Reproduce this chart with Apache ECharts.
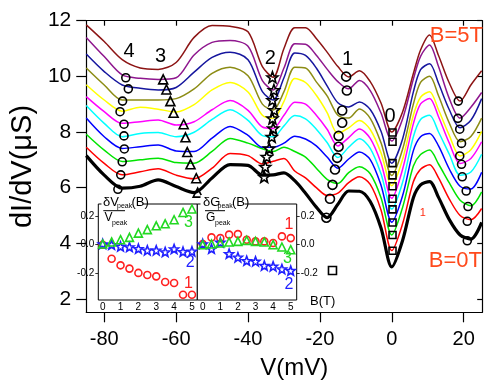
<!DOCTYPE html>
<html>
<head>
<meta charset="utf-8">
<script src="https://cdn.jsdelivr.net/npm/echarts@6/dist/echarts.min.js"></script>
<style>
  html, body { margin: 0; padding: 0; background: #fff; }
  #main { width: 491px; height: 392px; }
</style>
</head>
<body>
<div id="main"></div>
<script>
// bias voltage grid (mV), shared by every dI/dV curve
var voltage = [-85, -80, -75, -70, -65, -60, -55, -50, -45, -40, -36, -33, -30, -27, -24, -21, -18, -15, -12, -9, -6, -3, 0, 3, 6, 8, 10.5, 13, 16, 19, 22, 25];

// dI/dV (uS) for each field, B = 0 ... 5 T (curves are offset as plotted)
var g00 = [7.15, 6.45, 5.98, 6.05, 6.28, 6.04, 5.82, 6.35, 6.83, 6.8, 6.45, 6.46, 6.53, 6.25, 5.8, 5.3, 4.92, 5.4, 5.88, 5.87, 5.5, 4.55, 3.15, 4.1, 5.64, 6.1, 6.22, 5.65, 4.85, 4.3, 4.15, 4.75];
var g05 = [7.45, 6.87, 6.46, 6.57, 6.68, 6.45, 6.32, 6.7, 7.23, 7.15, 6.85, 6.95, 7.05, 6.6, 6.35, 6.0, 5.72, 5.8, 6.18, 6.39, 6.12, 5.2, 3.74, 4.7, 6.21, 6.66, 6.82, 6.35, 5.59, 5.0, 4.85, 5.25];
var g10 = [7.92, 7.35, 6.94, 7.0, 7.06, 6.9, 6.88, 7.3, 7.77, 7.6, 7.4, 7.3, 7.45, 7.3, 7.1, 6.7, 6.3, 6.15, 6.54, 6.75, 6.5, 5.64, 4.3, 5.29, 6.78, 7.19, 7.35, 6.85, 6.17, 5.55, 5.35, 5.85];
var g15 = [8.5, 7.83, 7.41, 7.47, 7.53, 7.32, 7.3, 7.78, 8.2, 7.88, 7.45, 7.45, 7.6, 7.85, 7.75, 7.5, 7.1, 6.7, 7.03, 7.28, 7.01, 6.09, 4.76, 5.71, 7.33, 7.83, 7.95, 7.5, 6.67, 6.05, 5.95, 6.55];
var g20 = [8.95, 8.31, 7.83, 7.95, 7.98, 7.83, 7.99, 8.45, 8.8, 8.42, 7.87, 7.83, 8.22, 8.59, 8.47, 8.1, 7.62, 7.08, 7.45, 7.76, 7.41, 6.5, 5.23, 6.19, 7.83, 8.45, 8.6, 8.0, 7.2, 6.45, 6.56, 7.2];
var g25 = [9.27, 8.73, 8.31, 8.37, 8.43, 8.25, 8.37, 8.8, 9.13, 8.78, 8.18, 8.13, 8.6, 9.07, 9.0, 8.6, 8.1, 7.5, 7.8, 8.11, 7.77, 6.89, 5.62, 6.66, 8.3, 9.01, 9.2, 8.55, 7.6, 6.87, 7.05, 7.65];
var g30 = [9.7, 9.15, 8.75, 8.89, 8.82, 8.72, 8.98, 9.51, 9.78, 9.44, 8.6, 8.49, 9.1, 9.92, 9.78, 9.32, 8.7, 7.95, 8.15, 8.41, 8.09, 7.25, 6.07, 7.02, 8.6, 9.25, 9.45, 8.8, 7.88, 7.14, 7.36, 8.02];
var g35 = [10.3, 9.69, 9.15, 9.15, 9.15, 9.2, 9.55, 10.11, 10.33, 10.02, 9.0, 8.79, 9.45, 10.33, 10.3, 9.8, 9.3, 8.6, 8.5, 8.83, 8.49, 7.61, 6.44, 7.38, 9.0, 9.78, 10.0, 9.3, 8.32, 7.65, 7.84, 8.5];
var g40 = [10.8, 10.17, 9.69, 9.57, 9.51, 9.6, 10.15, 10.68, 10.87, 10.6, 9.45, 9.15, 9.95, 10.84, 10.75, 10.3, 9.66, 9.05, 8.9, 9.08, 8.81, 8.03, 6.88, 7.75, 9.44, 10.24, 10.45, 9.75, 8.8, 8.15, 8.42, 9.2];
var g45 = [11.4, 10.71, 10.05, 9.93, 9.89, 9.95, 10.77, 11.22, 11.29, 11.08, 9.85, 9.51, 10.3, 11.17, 11.15, 10.76, 10.26, 9.81, 9.55, 9.85, 9.49, 8.68, 7.68, 8.47, 9.9, 10.72, 11.13, 10.35, 9.2, 8.5, 8.89, 9.42];
var g50 = [11.85, 11.25, 10.6, 10.3, 10.25, 10.5, 11.4, 11.83, 11.8, 11.6, 10.35, 9.97, 11.0, 11.75, 11.75, 11.36, 10.87, 10.35, 9.98, 10.2, 9.81, 9.04, 8.0, 8.72, 10.1, 10.95, 11.49, 10.75, 9.76, 9.11, 9.69, 10.2];

// peak positions [V, dI/dV] marked on the curves
var peak4 = [[-76.2, 5.94], [-75.4, 6.46], [-75.0, 6.93], [-74.4, 7.39], [-74.5, 7.86], [-74.5, 8.28], [-75.6, 8.73], [-74.9, 9.11], [-73.3, 9.55], [-74.0, 9.95]];
var peak3 = [[-54.0, 5.82], [-54.4, 6.34], [-56.0, 6.84], [-56.9, 7.28], [-57.4, 7.81], [-57.9, 8.28], [-60.7, 8.69], [-61.6, 9.11], [-62.7, 9.53], [-63.6, 9.89]];
var peak2 = [[-35.5, 6.39], [-35.2, 6.75], [-34.8, 7.11], [-34.1, 7.41], [-33.4, 7.83], [-33.0, 8.13], [-33.2, 8.49], [-32.7, 8.79], [-33.2, 9.15], [-32.8, 9.51], [-33.2, 9.97]];
var peak1 = [[-18.2, 4.92], [-17.2, 5.6], [-16.5, 6.1], [-15.8, 6.65], [-15.2, 7.07], [-14.8, 7.47], [-14.8, 7.86], [-13.8, 8.33], [-13.8, 8.77], [-12.5, 9.49], [-12.7, 9.99]];
var peak0 = [[0.2, 3.73], [0.2, 4.3], [0.2, 4.75], [0.2, 5.22], [0.2, 5.6], [0.2, 6.05], [0.2, 6.44], [0.2, 6.88], [0.2, 7.65], [0.2, 7.98]];
var peakPlus = [[21.0, 4.09], [21.0, 4.79], [21.2, 5.32], [20.7, 5.88], [19.6, 6.39], [19.4, 6.84], [18.9, 7.14], [19.4, 7.59], [18.9, 8.1], [18.4, 8.49], [18.5, 9.11]];
var looseSquare = [[-16.5, 3.02]];

// inset data vs field
var fieldT = [0, 0.5, 1, 1.5, 2, 2.5, 3, 3.5, 4, 4.5, 5];
var dV1 = [0, -0.098, -0.144, -0.167, -0.197, -0.211, -0.221, -0.26, -0.267, -0.349, -0.349];
var dV2 = [0.005, 0, -0.012, -0.016, -0.028, -0.039, -0.039, -0.051, -0.03, -0.049, -0.046];
var dV3 = [0.005, 0.019, 0.035, 0.051, 0.081, 0.105, 0.132, 0.146, 0.174, 0.225, 0.249];
var dG1 = [0.005, 0.051, 0.046, 0.07, 0.074, 0.035, 0.023, 0.023, 0.012, 0.058, 0.046];
var dG2 = [0.005, -0.028, 0.016, -0.063, -0.088, -0.112, -0.116, -0.146, -0.151, -0.17, -0.181];
var dG3 = [0, 0.005, 0.012, 0.019, 0.023, 0.03, 0.023, 0.019, 0, -0.016, -0.035];

// ticks
var vTicks = [-80, -60, -40, -20, 0, 20];
var gTicks = [2, 4, 6, 8, 10, 12];
var bTicks = [0, 1, 2, 3, 4, 5];
var bMinor = [0, 0.5, 1, 1.5, 2, 2.5, 3, 3.5, 4, 4.5, 5];
var insetTicks = [-0.2, 0, 0.2];

// text tags [text, [x, y]]
var peakTags = [['4', [-73.1, 10.89]], ['3', [-64.3, 10.71]], ['2', [-33.8, 10.65]], ['1', [-12.3, 10.59]], ['0', [-0.5, 8.55]]];
var fieldTags = [['B=5T', [17.95, 11.46]], ['B=0T', [17.7, 3.36]]];
var smallTag = [['1', [8.6, 5.1]]];
var leftInsetTags = [['3', [4.81, 0.151], '#22d822'], ['2', [4.9, -0.123], '#2020ff'], ['1', [4.81, -0.272], '#ff2020']];
var rightInsetTags = [['1', [4.9, 0.139], '#ff2020'], ['3', [4.81, -0.1], '#22d822'], ['2', [4.9, -0.279], '#2020ff']];

var FONT = 'Liberation Sans, Arial, Helvetica, sans-serif';
var curveColors = ['#000000', '#ff0000', '#00e400', '#0000ff', '#00ffff', '#ff00ff', '#ffff00', '#8c8c14', '#16169e', '#8e168e', '#8c1414'];
var STAR = 'path://M12,1 L14.9,8.6 L23,8.9 L16.7,14 L18.8,21.8 L12,17.4 L5.2,21.8 L7.3,14 L1,8.9 L9.1,8.6 Z';

var myChart = echarts.init(document.getElementById('main'));

var series = [];
[g00, g05, g10, g15, g20, g25, g30, g35, g40, g45, g50].forEach(function (vals, i) {
  series.push({
    type: 'line',
    xAxisIndex: 0, yAxisIndex: 0,
    data: voltage.map(function (v, k) { return [v, vals[k]]; }),
    smooth: 0.3,
    symbol: 'none',
    silent: true,
    lineStyle: { color: curveColors[i], width: i === 0 ? 3.2 : 1.5 },
    z: i === 0 ? 4 : 3
  });
});

function markers(data, symbol, size, color, xi, yi) {
  return {
    type: 'scatter', xAxisIndex: xi, yAxisIndex: yi,
    data: data, symbol: symbol, symbolSize: size, silent: true, z: 6,
    itemStyle: { color: 'rgba(255,255,255,0)', borderColor: color, borderWidth: 1.6, opacity: 1 }
  };
}

function tags(items, size, color, xi, yi) {
  return {
    type: 'scatter', xAxisIndex: xi, yAxisIndex: yi,
    symbolSize: 1, silent: true, z: 7,
    itemStyle: { color: 'rgba(0,0,0,0)', opacity: 1 },
    data: items.map(function (t) { return { value: t[1], name: t[0], label: { color: t[2] || color } }; }),
    label: { show: true, position: 'inside', formatter: '{b}', fontSize: size, fontFamily: FONT, color: color, opacity: 1 }
  };
}

function vsField(arr) {
  return fieldT.map(function (b, k) { return [b, arr[k]]; });
}

series.push(markers(peak4, 'circle', 8, '#000', 0, 0));
series.push(markers(peak3, 'triangle', 9, '#000', 0, 0));
series.push(markers(peak2, STAR, 11, '#000', 0, 0));
series.push(markers(peak1, 'circle', 9, '#000', 0, 0));
series.push(markers(peak0, 'rect', 7, '#000', 0, 0));
series.push(markers(peakPlus, 'circle', 8, '#000', 0, 0));
series.push(markers(looseSquare, 'rect', 8, '#000', 0, 0));
series.push(tags(peakTags, 20, '#000', 0, 0));
series.push(tags(fieldTags, 22, '#ff4a1c', 0, 0));
series.push(tags(smallTag, 11, '#ff2a10', 0, 0));

series.push(markers(vsField(dV1), 'circle', 7, '#ff2020', 2, 2));
series.push(markers(vsField(dV2), STAR, 9, '#2020ff', 2, 2));
series.push(markers(vsField(dV3), 'triangle', 8, '#22d822', 2, 2));
series.push(tags(leftInsetTags, 16, '#000', 2, 2));
series.push(markers(vsField(dG1), 'circle', 7, '#ff2020', 3, 3));
series.push(markers(vsField(dG2), STAR, 9, '#2020ff', 3, 3));
series.push(markers(vsField(dG3), 'triangle', 8, '#22d822', 3, 3));
series.push(tags(rightInsetTags, 16, '#000', 3, 3));

var black = { color: '#000', width: 1.2 };

function insetX(grid, min, max) {
  return {
    type: 'value', gridIndex: grid, min: min, max: max, position: 'bottom',
    axisLine: { show: false, onZero: false },
    axisTick: { inside: true, length: 3, customValues: bMinor, lineStyle: { color: '#000', width: 0.8 } },
    axisLabel: { customValues: bTicks, fontSize: 10, color: '#000', fontFamily: FONT, margin: 2 },
    splitLine: { show: false }
  };
}

function insetY(grid, side) {
  return {
    type: 'value', gridIndex: grid, min: -0.386, max: 0.284, position: side,
    axisLine: { show: false, onZero: false },
    axisTick: { inside: false, length: 3, customValues: insetTicks, lineStyle: { color: '#000', width: 0.8 } },
    axisLabel: {
      customValues: insetTicks, fontSize: 10, color: '#000', fontFamily: FONT, margin: 4,
      formatter: function (v) { return v.toFixed(1); }
    },
    splitLine: { show: false }
  };
}

myChart.setOption({
  animation: false,
  backgroundColor: '#fff',
  grid: [
    { left: 78.7, right: 8.8, top: 20.7, bottom: 79.7 },
    { left: 98.3, top: 204, width: 99, height: 96, show: true, backgroundColor: '#fff', borderColor: '#000', borderWidth: 1, z: 5 },
    { left: 197.3, top: 204, width: 99.4, height: 96, show: true, backgroundColor: '#fff', borderColor: '#000', borderWidth: 1, z: 5 }
  ],
  xAxis: [
    {
      type: 'value', gridIndex: 0, min: -85, max: 25.15, position: 'bottom',
      axisLine: { onZero: false, lineStyle: black },
      axisTick: { inside: false, length: 10, customValues: vTicks, lineStyle: black },
      axisLabel: { customValues: vTicks, fontSize: 20, color: '#000', fontFamily: FONT, margin: 17 },
      splitLine: { show: false },
      name: 'V(mV)', nameLocation: 'middle', nameGap: 44,
      nameTextStyle: { fontSize: 24, color: '#000', fontFamily: FONT, padding: [0, 0, 0, 20] }
    },
    {
      type: 'value', gridIndex: 0, min: -85, max: 25.15, position: 'top',
      axisLine: { onZero: false, lineStyle: black },
      axisTick: { inside: true, length: 5, customValues: vTicks, lineStyle: black },
      axisLabel: { show: false },
      splitLine: { show: false }
    },
    insetX(1, -0.246, 5.3),
    insetX(2, -0.307, 5.34)
  ],
  yAxis: [
    {
      type: 'value', gridIndex: 0, min: 1.52, max: 12, position: 'left',
      axisLine: { onZero: false, lineStyle: black },
      axisTick: { inside: false, length: 10, customValues: gTicks, lineStyle: black },
      axisLabel: { customValues: gTicks, fontSize: 21, color: '#000', fontFamily: FONT, margin: 15 },
      splitLine: { show: false },
      name: 'dI/dV(\u03bcS)', nameLocation: 'middle', nameGap: 44,
      nameTextStyle: { fontSize: 29, color: '#000', fontFamily: FONT }
    },
    {
      type: 'value', gridIndex: 0, min: 1.52, max: 12, position: 'right',
      axisLine: { onZero: false, lineStyle: black },
      axisTick: { inside: true, length: 5, customValues: gTicks, lineStyle: black },
      axisLabel: { show: false },
      splitLine: { show: false }
    },
    insetY(1, 'left'),
    insetY(2, 'right')
  ],
  graphic: [
    { type: 'rect', z: 100, shape: { x: 101.5, y: 195, width: 41, height: 14 }, style: { fill: '#fff' } },
    { type: 'text', z: 101, style: { text: '\u03b4V', x: 103, y: 196, font: '13px ' + FONT, fill: '#000', verticalAlign: 'top' } },
    { type: 'text', z: 101, style: { text: 'peak', x: 117, y: 203, font: '7px ' + FONT, fill: '#000', verticalAlign: 'top' } },
    { type: 'text', z: 101, style: { text: '(B)', x: 131.5, y: 196, font: '13px ' + FONT, fill: '#000', verticalAlign: 'top' } },
    { type: 'line', z: 101, shape: { x1: 103.3, y1: 210.7, x2: 125, y2: 210.7 }, style: { stroke: '#000', lineWidth: 1 } },
    { type: 'text', z: 101, style: { text: 'V', x: 104.5, y: 212, font: '12px ' + FONT, fill: '#000', verticalAlign: 'top' } },
    { type: 'text', z: 101, style: { text: 'peak', x: 112, y: 219.5, font: '7px ' + FONT, fill: '#000', verticalAlign: 'top' } },

    { type: 'rect', z: 100, shape: { x: 200.5, y: 195, width: 44, height: 14 }, style: { fill: '#fff' } },
    { type: 'text', z: 101, style: { text: '\u03b4G', x: 203, y: 196, font: '13px ' + FONT, fill: '#000', verticalAlign: 'top' } },
    { type: 'text', z: 101, style: { text: 'peak', x: 217.5, y: 203, font: '7px ' + FONT, fill: '#000', verticalAlign: 'top' } },
    { type: 'text', z: 101, style: { text: '(B)', x: 232, y: 196, font: '13px ' + FONT, fill: '#000', verticalAlign: 'top' } },
    { type: 'line', z: 101, shape: { x1: 205, y1: 210.7, x2: 225, y2: 210.7 }, style: { stroke: '#000', lineWidth: 1 } },
    { type: 'text', z: 101, style: { text: 'G', x: 206, y: 212, font: '12px ' + FONT, fill: '#000', verticalAlign: 'top' } },
    { type: 'text', z: 101, style: { text: 'peak', x: 215, y: 219.5, font: '7px ' + FONT, fill: '#000', verticalAlign: 'top' } },

    { type: 'text', z: 101, style: { text: 'B(T)', x: 310, y: 295, font: '13px ' + FONT, fill: '#000', verticalAlign: 'top' } }
  ],
  series: series
});
</script>
</body>
</html>
